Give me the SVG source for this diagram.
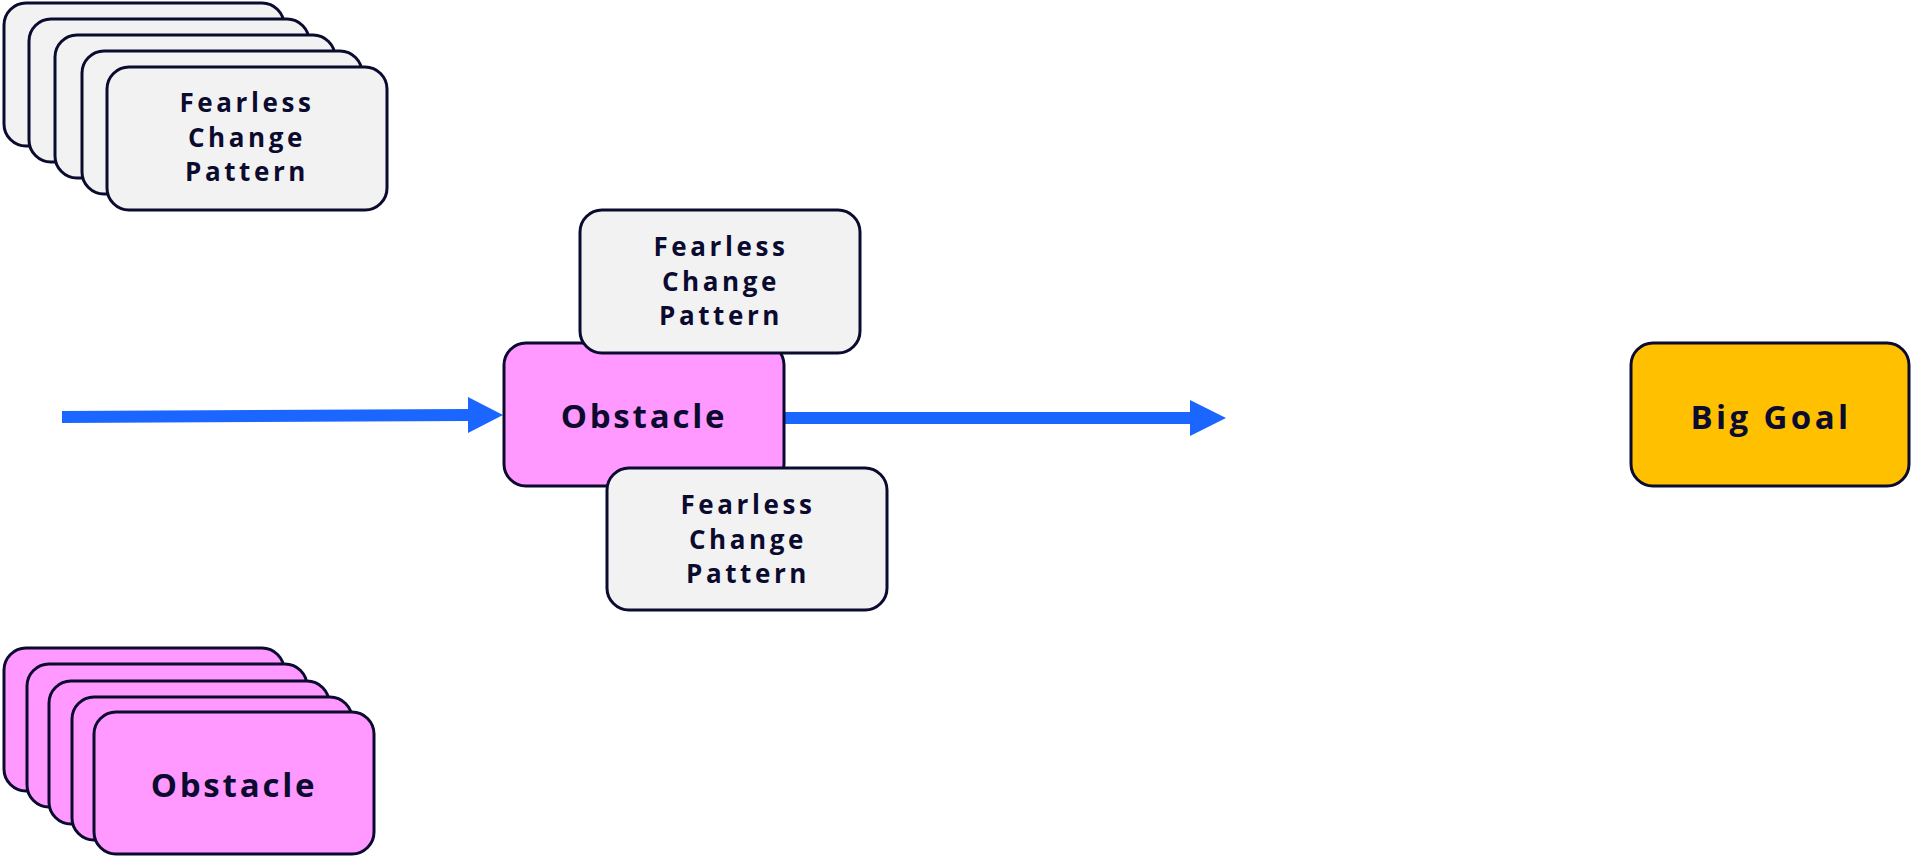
<svg xmlns="http://www.w3.org/2000/svg" width="1911" height="856" viewBox="0 0 1911 856">
<style>
  .box { stroke: #0b0b30; stroke-width: 3; }
  .fcp { fill: #f2f2f2; }
  .obs { fill: #ff99ff; }
  .goal { fill: #ffc000; }
  .t { font-family: "Open Sans", "Liberation Sans", sans-serif; font-weight: 700; fill: #0b0b30; text-anchor: middle; }
  .ts { font-size: 26px; letter-spacing: 3.6px; }
  .tl { font-size: 33px; letter-spacing: 2.8px; }
  .tg { font-size: 33px; letter-spacing: 3.4px; }
  .arrow { fill: #1a66ff; }
</style>
<rect width="1911" height="856" fill="#ffffff"/>

<g id="fcp-stack">
  <rect class="box fcp" x="4" y="3" width="280" height="143" rx="22"/>
  <rect class="box fcp" x="29" y="19" width="280" height="143" rx="22"/>
  <rect class="box fcp" x="55" y="35" width="280" height="143" rx="22"/>
  <rect class="box fcp" x="82" y="51" width="280" height="143" rx="22"/>
  <rect class="box fcp" x="107" y="67" width="280" height="143" rx="22"/>
  <text class="t ts" x="247" y="112">Fearless</text>
  <text class="t ts" x="247" y="147">Change</text>
  <text class="t ts" x="247" y="181">Pattern</text>
</g>

<g id="obstacle-stack">
  <rect class="box obs" x="4" y="648" width="280" height="143" rx="22"/>
  <rect class="box obs" x="27" y="664" width="280" height="143" rx="22"/>
  <rect class="box obs" x="49" y="681" width="280" height="143" rx="22"/>
  <rect class="box obs" x="72" y="697" width="280" height="143" rx="22"/>
  <rect class="box obs" x="94" y="712" width="280" height="142" rx="22"/>
  <text class="t tl" x="234" y="797">Obstacle</text>
</g>

<g id="connectors">
  <polygon class="arrow" points="62,411 468,409 468,397 503,415 468,433 468,421 62,423"/>
  <polygon class="arrow" points="782,412 1190,412 1190,400 1226,418 1190,436 1190,424 782,424"/>
</g>

<g id="obstacle">
  <rect class="box obs" x="504" y="343" width="280" height="143" rx="22"/>
  <text class="t tl" x="644" y="428">Obstacle</text>
</g>

<g id="fcp-top">
  <rect class="box fcp" x="580" y="210" width="280" height="143" rx="22"/>
  <text class="t ts" x="721" y="256">Fearless</text>
  <text class="t ts" x="721" y="291">Change</text>
  <text class="t ts" x="721" y="325">Pattern</text>
</g>

<g id="fcp-bottom">
  <rect class="box fcp" x="607" y="468" width="280" height="142" rx="22"/>
  <text class="t ts" x="748" y="514">Fearless</text>
  <text class="t ts" x="748" y="549">Change</text>
  <text class="t ts" x="748" y="583">Pattern</text>
</g>

<g id="big-goal">
  <rect class="box goal" x="1631" y="343" width="278" height="143" rx="22"/>
  <text class="t tg" x="1771" y="429">Big Goal</text>
</g>
</svg>
